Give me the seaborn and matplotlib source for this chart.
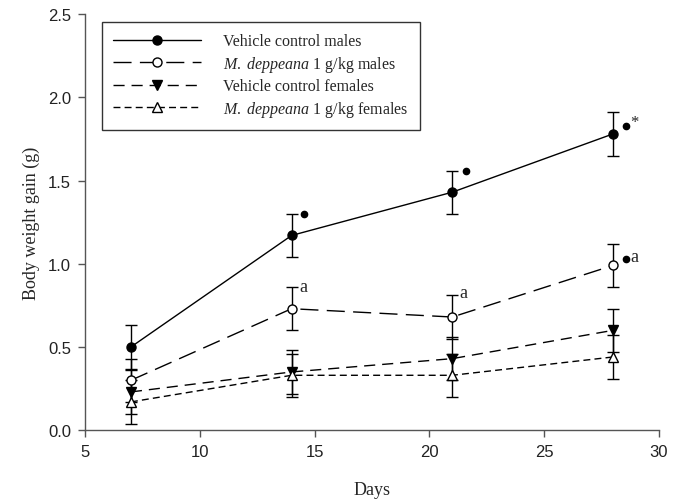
import matplotlib
matplotlib.use("Agg")
import matplotlib.pyplot as plt
import seaborn as sns
import pandas as pd
from matplotlib.lines import Line2D

days = [7, 14, 21, 28]
vehicle_males = [0.50, 1.17, 1.43, 1.78]
mdep_males = [0.30, 0.73, 0.68, 0.99]
vehicle_females = [0.23, 0.35, 0.43, 0.60]
mdep_females = [0.17, 0.33, 0.33, 0.44]
se_vehicle_males = [0.13, 0.13, 0.13, 0.13]
se_mdep_males = [0.13, 0.13, 0.13, 0.13]
se_vehicle_females = [0.13, 0.13, 0.13, 0.13]
se_mdep_females = [0.13, 0.13, 0.13, 0.13]

labels = ["Vehicle control males",
          r"$\it{M.\ deppeana}$ 1 g/kg males",
          "Vehicle control females",
          r"$\it{M.\ deppeana}$ 1 g/kg females"]

sns.set_theme(style="ticks")
plt.rcParams["font.family"] = ["Liberation Serif", "DejaVu Serif"]
plt.rcParams["mathtext.fontset"] = "custom"
plt.rcParams["mathtext.it"] = "Liberation Serif:italic"
plt.rcParams["mathtext.rm"] = "Liberation Serif"

series = [
    (vehicle_males, se_vehicle_males, labels[0], "o", "black", (None, None)),
    (mdep_males, se_mdep_males, labels[1], "o", "white", (13, 6)),
    (vehicle_females, se_vehicle_females, labels[2], "v", "black", (8, 5)),
    (mdep_females, se_mdep_females, labels[3], "^", "white", (5, 3)),
]

frames = []
for vals, se, lab, *_ in series:
    frames.append(pd.DataFrame({"Days": days, "Gain": vals, "SE": se, "Group": lab}))
df = pd.concat(frames, ignore_index=True)

fig = plt.figure(figsize=(6.8, 5.02), dpi=100)
ax = fig.add_axes([0.125, 0.141, 0.844, 0.829])

for vals, se, lab, mk, fc, dash in series:
    sub = df[df["Group"] == lab]
    ax.errorbar(sub["Days"], sub["Gain"], yerr=sub["SE"], fmt="none",
                ecolor="black", elinewidth=1.0, capsize=4, capthick=1.0, zorder=2)

palette = {lab: "black" for lab in labels}
dashes = {s[2]: ("" if s[5][0] is None else s[5]) for s in series}
markers = {s[2]: s[3] for s in series}
sns.lineplot(data=df, x="Days", y="Gain", hue="Group", style="Group",
             hue_order=labels, style_order=labels, palette=palette,
             dashes=dashes, markers=markers, markersize=6.5, linewidth=1.0,
             markeredgecolor="black", markeredgewidth=1.0, ax=ax, zorder=3,
             legend=False)

# marker fill colours
for line, s in zip(ax.get_lines()[-4:], series):
    line.set_markerfacecolor(s[4])

# significance annotations
ax.plot([14.55, 21.6, 28.55, 28.55], [1.30, 1.555, 1.825, 1.03], "o",
        color="black", markersize=4.5, zorder=4)
ax.text(28.75, 1.85, "*", fontsize=12, va="center", ha="left")
ax.text(28.75, 1.045, "a", fontsize=13, va="center", ha="left")
ax.text(14.35, 0.865, "a", fontsize=13, va="center", ha="left")
ax.text(21.3, 0.825, "a", fontsize=13, va="center", ha="left")

# legend
handles = []
for vals, se, lab, mk, fc, dash in series:
    ls = "-" if dash[0] is None else (0, dash)
    handles.append(Line2D([], [], color="black", linewidth=1.0, linestyle=ls,
                          marker=mk, markersize=6.5, markerfacecolor=fc,
                          markeredgecolor="black"))
leg = ax.legend(handles, labels, loc="upper left", bbox_to_anchor=(0.0296, 0.981),
                frameon=True, fancybox=False, edgecolor="black", fontsize=11.5,
                handlelength=5.5, handletextpad=1.4, borderpad=0.7,
                labelspacing=0.28, borderaxespad=0)
leg.get_frame().set_linewidth(1.0)

ax.set_xlim(5, 30)
ax.set_ylim(0, 2.5)
ax.set_xticks([5, 10, 15, 20, 25, 30])
ax.set_yticks([0.0, 0.5, 1.0, 1.5, 2.0, 2.5])
ax.set_yticklabels(["0.0", "0.5", "1.0", "1.5", "2.0", "2.5"])
for t in ax.get_xticklabels() + ax.get_yticklabels():
    t.set_fontfamily("Liberation Sans")
    t.set_fontsize(12)
    t.set_color("#222222")
ax.set_xlabel("Days", fontsize=13, labelpad=16)
ax.set_ylabel("Body weight gain (g)", fontsize=13, labelpad=6)
for side in ["top", "right"]:
    ax.spines[side].set_visible(False)
for side in ["left", "bottom"]:
    ax.spines[side].set_color("#555555")
    ax.spines[side].set_linewidth(1.0)
ax.tick_params(direction="out", length=5, width=1.0, color="#555555", pad=5)

fig.savefig("out.png", dpi=100)
